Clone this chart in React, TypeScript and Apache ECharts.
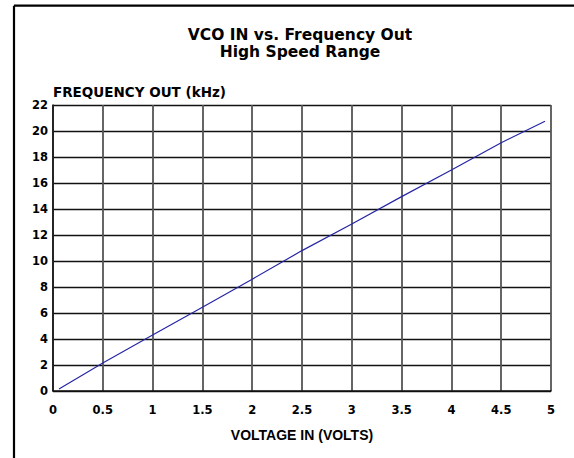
import React, { useEffect, useRef } from "react";
import * as echarts from "echarts";

const voltage = [0.06, 0.5, 1.0, 1.5, 2.0, 2.5, 3.0, 3.5, 4.0, 4.5, 4.94];
const frequency = [0.15, 2.15, 4.3, 6.45, 8.6, 10.8, 12.85, 14.95, 17.0, 19.1, 20.75];
const titleLines = ["VCO IN vs. Frequency Out", "High Speed Range"];
const xName = "VOLTAGE IN (VOLTS)";
const yName = "FREQUENCY OUT (kHz)";

const WIDE = "'DejaVu Sans', Verdana, sans-serif";
const NARROW = "'Liberation Sans', Arial, sans-serif";

export default function App() {
  const ref = useRef<HTMLDivElement>(null);
  useEffect(() => {
    if (!ref.current) return;
    const chart = echarts.init(ref.current, null, { renderer: "svg" });
    const data = voltage.map((v, i) => [v, frequency[i]]);
    chart.setOption({
      animation: false,
      backgroundColor: "#ffffff",
      title: {
        text: titleLines.join("\n"),
        left: 300,
        top: 26,
        textAlign: "center",
        padding: 0,
        textStyle: {
          fontFamily: WIDE,
          fontWeight: "bold",
          fontSize: 15.5,
          lineHeight: 17,
          color: "#000",
        },
      },
      graphic: [
        {
          type: "line",
          shape: { x1: 14, y1: 5.7, x2: 574, y2: 5.7 },
          style: { stroke: "#000", lineWidth: 2.2 },
        },
        {
          type: "line",
          shape: { x1: 14, y1: 5.7, x2: 14, y2: 458 },
          style: { stroke: "#000", lineWidth: 2.2 },
        },
      ],
      grid: { left: 53, right: 23, top: 105, bottom: 67, containLabel: false },
      xAxis: {
        type: "value",
        min: 0,
        max: 5,
        interval: 0.5,
        name: xName,
        nameLocation: "middle",
        nameGap: 37,
        nameTextStyle: { fontFamily: NARROW, fontWeight: "bold", fontSize: 14, color: "#000" },
        axisLine: { show: true, lineStyle: { color: "#111", width: 1.5 } },
        axisTick: { show: false },
        axisLabel: {
          fontFamily: WIDE,
          fontWeight: "bold",
          fontSize: 11.5,
          color: "#000",
          margin: 13,
          formatter: (v: number) => String(v),
        },
        splitLine: { show: true, lineStyle: { color: "#555", width: 1.8 } },
      },
      yAxis: {
        type: "value",
        min: 0,
        max: 22,
        interval: 2,
        name: yName,
        nameLocation: "end",
        nameGap: 10,
        nameTextStyle: {
          fontFamily: WIDE,
          fontWeight: "bold",
          fontSize: 13.5,
          color: "#000",
          align: "left",
          verticalAlign: "middle",
        },
        axisLine: { show: true, lineStyle: { color: "#111", width: 1.5 } },
        axisTick: { show: false },
        axisLabel: {
          fontFamily: WIDE,
          fontWeight: "bold",
          fontSize: 11.5,
          color: "#000",
          margin: 5,
        },
        splitLine: { show: true, lineStyle: { color: "#111", width: 1.4 } },
      },
      series: [
        {
          type: "line",
          data,
          showSymbol: false,
          symbol: "none",
          lineStyle: { color: "#2626a6", width: 1.2 },
        },
      ],
    });
    return () => chart.dispose();
  }, []);
  return (
    <div
      ref={ref}
      style={{ position: "fixed", left: 0, top: 0, width: 574, height: 458 }}
    />
  );
}
